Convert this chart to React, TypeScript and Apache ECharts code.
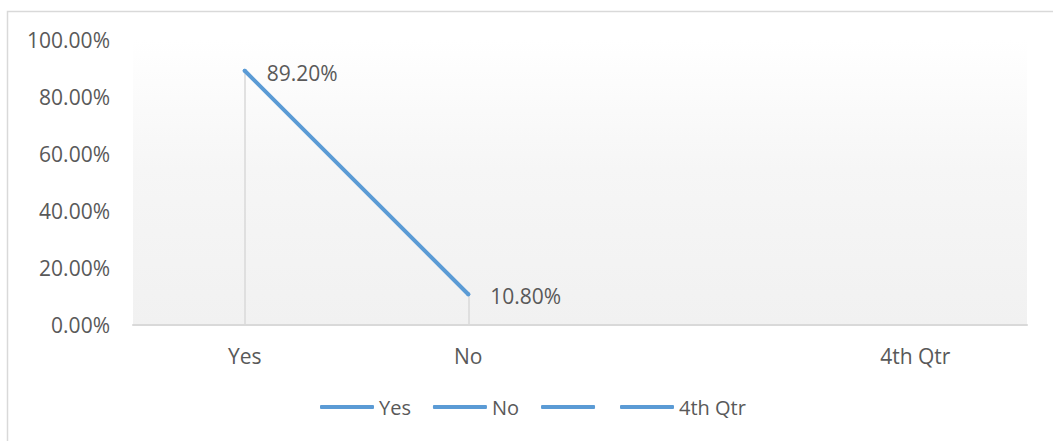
import React, { useEffect, useRef } from "react";
import * as echarts from "echarts";

const categories = ["Yes", "No", "", "4th Qtr"];
const values: (number | null)[] = [0.892, 0.108, null, null];
const legendNames = ["Yes", "No", " ", "4th Qtr"];
const yTicks = { min: 0, max: 1, interval: 0.2 };

const FONT = "'Open Sans', sans-serif";
const TEXT = "#595959";
const BLUE = "#5b9bd5";
const GRAY = "#d9d9d9";

export default function App() {
  const ref = useRef<HTMLDivElement>(null);
  useEffect(() => {
    if (!ref.current) return;
    const chart = echarts.init(ref.current, null, { renderer: "svg" });
    const dropLines = values
      .map((v, i) =>
        v == null
          ? null
          : [
              { coord: [i, 0] },
              { coord: [i, v] },
            ]
      )
      .filter((d) => d != null);
    const series: any[] = legendNames.map((name, idx) => ({
      name,
      type: "line",
      data: idx === 0 ? values : categories.map(() => null),
      symbol: "circle",
      symbolSize: 4,
      showSymbol: idx === 0,
      color: BLUE,
      itemStyle: { color: BLUE },
      lineStyle: { color: BLUE, width: 4, cap: "round", join: "round" },
      z: 3,
      label:
        idx === 0
          ? {
              show: true,
              position: "right",
              distance: 20,
              offset: [0, 2],
              color: TEXT,
              fontFamily: FONT,
              fontSize: 21,
              formatter: (p: any) => (p.value * 100).toFixed(2) + "%",
            }
          : { show: false },
      markLine:
        idx === 0
          ? {
              silent: true,
              symbol: ["none", "none"],
              label: { show: false },
              lineStyle: { color: GRAY, width: 1.5, type: "solid" },
              z: 1,
              data: dropLines,
            }
          : undefined,
    }));
    const legendBase = {
      top: 396,
      padding: 0,
      icon: "roundRect",
      itemWidth: 54,
      itemHeight: 4,
      itemGap: 22,
      selectedMode: false,
      textStyle: {
        color: TEXT,
        fontFamily: FONT,
        fontSize: 20,
        lineHeight: 22,
      },
    };
    chart.setOption({
      animation: false,
      textStyle: { fontFamily: FONT },
      graphic: [
        {
          type: "rect",
          shape: { x: 7.5, y: 11.5, width: 1100, height: 500 },
          style: { fill: "none", stroke: GRAY, lineWidth: 1.5 },
          silent: true,
          z: -10,
        },
      ],
      grid: {
        left: 133,
        right: 26,
        top: 40,
        bottom: 116,
        show: true,
        borderWidth: 0,
        backgroundColor: new echarts.graphic.LinearGradient(0, 0, 0, 1, [
          { offset: 0, color: "#ffffff" },
          { offset: 0.45, color: "#f6f6f6" },
          { offset: 1, color: "#f1f1f1" },
        ]),
      },
      xAxis: {
        type: "category",
        data: categories,
        boundaryGap: true,
        axisLine: { show: true, lineStyle: { color: GRAY, width: 2 } },
        axisTick: { show: false },
        axisLabel: {
          color: TEXT,
          fontFamily: FONT,
          fontSize: 21,
          margin: 20,
          interval: 0,
        },
        splitLine: { show: false },
      },
      yAxis: {
        type: "value",
        min: yTicks.min,
        max: yTicks.max,
        interval: yTicks.interval,
        axisLine: { show: false },
        axisTick: { show: false },
        splitLine: { show: false },
        axisLabel: {
          color: TEXT,
          fontFamily: FONT,
          fontSize: 21,
          margin: 23,
          formatter: (v: number) => (v * 100).toFixed(2) + "%",
        },
      },
      legend: [
        { ...legendBase, left: 320, data: legendNames.slice(0, 3) },
        { ...legendBase, left: 620, data: legendNames.slice(3) },
      ],
      series,
    });
    return () => chart.dispose();
  }, []);
  return (
    <div
      ref={ref}
      style={{
        position: "fixed",
        left: 0,
        top: 0,
        width: 1053,
        height: 441,
        background: "#ffffff",
      }}
    />
  );
}
